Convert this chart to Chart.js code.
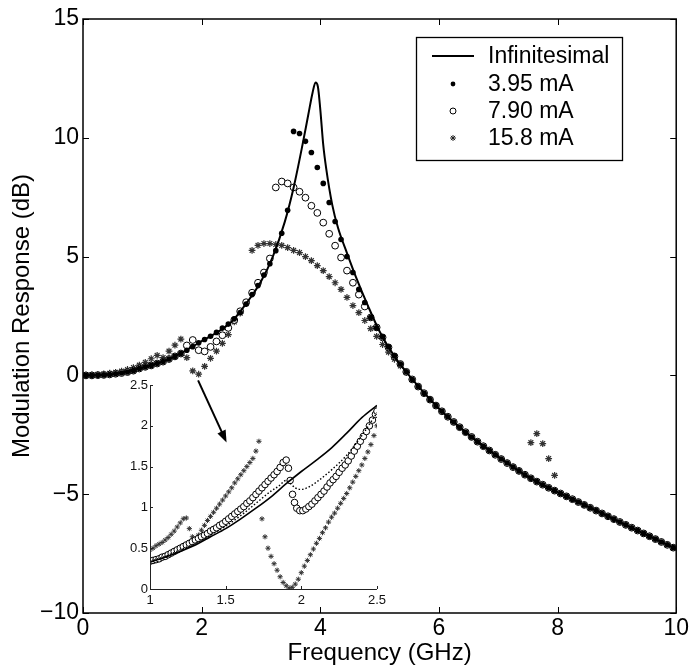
<!DOCTYPE html>
<html><head><meta charset="utf-8">
<script src="https://cdn.jsdelivr.net/npm/chart.js@4.4.1/dist/chart.umd.min.js"></script>
<style>
html,body{margin:0;padding:0;background:#fff;}
#wrap{position:relative;width:691px;height:668px;background:#fff;}
#main{position:absolute;left:0;top:0;}
#inset{position:absolute;left:100px;top:372px;}
</style></head><body>
<div id="wrap">
<canvas id="main" width="691" height="668"></canvas>
<canvas id="inset" width="290" height="240"></canvas>
</div>
<script>
// ---------- main chart data ----------
const mainXTicks = [0, 2, 4, 6, 8, 10];
const mainYTicks = [-10, -5, 0, 5, 10, 15];
const legendLabels = ['Infinitesimal', '3.95 mA', '7.90 mA', '15.8 mA'];

const freqCurve = [0, 0.5, 1.0, 1.5, 2.0, 2.5, 2.75, 3.0, 3.2, 3.4, 3.55, 3.7, 3.8, 3.87, 3.92, 3.96, 4.0, 4.05, 4.1, 4.2, 4.3, 4.45, 4.6, 4.8, 5.0, 5.25, 5.5, 6.0, 6.5, 7.0, 7.5, 8.0, 8.5, 9.0, 9.5, 10.0];
const dbInfinitesimal = [0, 0.05, 0.33, 0.74, 1.44, 2.25, 3.02, 3.95, 5.0, 6.45, 7.9, 9.7, 11.0, 11.9, 12.33, 12.15, 11.2, 9.7, 8.7, 7.2, 6.2, 5.15, 4.15, 2.95, 1.85, 0.80, -0.01, -1.39, -2.49, -3.43, -4.26, -4.91, -5.51, -6.11, -6.71, -7.31];

const freqMarkers = [0.05,0.15,0.25,0.35,0.45,0.55,0.65,0.75,0.85,0.95,
1.05,1.15,1.25,1.35,1.45,1.55,1.65,1.75,1.85,1.95,
2.05,2.15,2.25,2.35,2.45,2.55,2.65,2.75,2.85,2.95,
3.05,3.15,3.25,3.35,3.45,3.55,3.65,3.75,3.85,3.95,
4.05,4.15,4.25,4.35,4.45,4.55,4.65,4.75,4.85,4.95,
5.05,5.15,5.25,5.35,5.45,5.55,5.65,5.75,5.85,5.95,
6.05,6.15,6.25,6.35,6.45,6.55,6.65,6.75,6.85,6.95,
7.05,7.15,7.25,7.35,7.45,7.55,7.65,7.75,7.85,7.95,
8.05,8.15,8.25,8.35,8.45,8.55,8.65,8.75,8.85,8.95,
9.05,9.15,9.25,9.35,9.45,9.55,9.65,9.75,9.85,9.95];

const db395 = [0.00,0.00,0.01,0.02,0.04,0.07,0.10,0.14,0.20,0.29,
0.36,0.42,0.50,0.58,0.69,0.80,0.92,1.06,1.21,1.37,
1.51,1.65,1.81,1.99,2.16,2.38,2.65,3.00,3.40,3.78,
4.22,4.70,5.25,5.98,6.95,10.27,10.18,9.85,9.38,8.75,
8.08,7.28,6.48,5.72,5.00,4.33,3.62,3.07,2.44,2.00,
1.62,1.20,0.82,0.48,0.15,-0.17,-0.47,-0.75,-1.02,-1.27,
-1.51,-1.74,-1.96,-2.18,-2.39,-2.59,-2.79,-2.98,-3.16,-3.34,
-3.52,-3.69,-3.86,-4.02,-4.18,-4.33,-4.47,-4.60,-4.73,-4.85,
-4.97,-5.09,-5.21,-5.33,-5.45,-5.57,-5.69,-5.81,-5.93,-6.05,
-6.17,-6.29,-6.41,-6.53,-6.65,-6.77,-6.89,-7.01,-7.13,-7.25];

const db790 = [0.00,0.00,0.01,0.02,0.04,0.07,0.10,0.14,0.20,0.29,
0.36,0.42,0.50,0.58,0.69,0.80,0.92,1.26,1.49,1.06,
1.01,1.20,1.43,1.69,2.00,2.33,2.70,3.08,3.48,3.90,
4.33,4.92,7.91,8.16,8.08,7.91,7.73,7.48,7.14,6.84,
6.43,5.96,5.46,4.96,4.41,3.90,3.40,2.90,2.44,2.02,
1.60,1.18,0.80,0.48,0.15,-0.17,-0.47,-0.75,-1.02,-1.27,
-1.51,-1.74,-1.96,-2.18,-2.39,-2.59,-2.79,-2.98,-3.16,-3.34,
-3.52,-3.69,-3.86,-4.02,-4.18,-4.33,-4.47,-4.60,-4.73,-4.85,
-4.97,-5.09,-5.21,-5.33,-5.45,-5.57,-5.69,-5.81,-5.93,-6.05,
-6.17,-6.29,-6.41,-6.53,-6.65,-6.77,-6.89,-7.01,-7.13,-7.25];

const db158 = [0.01,0.02,0.04,0.06,0.09,0.13,0.18,0.25,0.33,0.43,
0.55,0.70,0.84,0.75,1.02,1.27,1.53,0.75,0.19,0.05,
0.38,0.72,1.02,1.35,1.72,2.25,2.62,3.02,5.26,5.47,
5.55,5.55,5.51,5.47,5.38,5.26,5.17,5.00,4.83,4.62,
4.41,4.16,3.90,3.62,3.28,2.94,2.64,2.31,1.97,1.64,
1.30,0.98,0.68,0.40,0.12,-0.17,-0.47,-0.75,-1.02,-1.27,
-1.51,-1.74,-1.96,-2.18,-2.39,-2.59,-2.79,-2.98,-3.16,-3.34,
-3.52,-3.69,-3.86,-4.02,-4.18,-2.83,-2.45,-2.87,-3.50,-4.21,
-4.97,-5.09,-5.21,-5.33,-5.45,-5.57,-5.69,-5.81,-5.93,-6.05,
-6.17,-6.29,-6.41,-6.53,-6.65,-6.77,-6.89,-7.01,-7.13,-7.25];

// arrow (data coordinates of main axes): start, end
const arrowFrom = [1.94, -0.21];
const arrowTo = [2.42, -2.82];

// ---------- inset data ----------
const insetXTicks = [1, 1.5, 2, 2.5];
const insetYTicks = [0, 0.5, 1, 1.5, 2, 2.5];

const insetFreqSolid = [1.0,1.1,1.2,1.3,1.4,1.5,1.6,1.7,1.8,1.9,2.0,2.1,2.2,2.3,2.4,2.5];
const insetDbSolid = [0.33,0.39,0.46,0.54,0.64,0.74,0.86,0.99,1.13,1.29,1.44,1.58,1.73,1.91,2.10,2.25];

const insetFreqDotted = [1.0,1.1,1.2,1.3,1.4,1.5,1.6,1.7,1.8,1.85,1.9,1.93,1.96,2.0,2.05,2.1,2.2,2.3,2.4,2.5];
const insetDbDotted = [0.34,0.40,0.48,0.56,0.66,0.77,0.90,1.05,1.20,1.26,1.33,1.29,1.24,1.22,1.25,1.31,1.46,1.64,1.88,2.16];

const insetFreqCircles = [1.00,1.02,1.04,1.06,1.08,1.10,1.12,1.14,1.16,1.18,1.20,1.22,1.24,1.26,1.28,1.30,1.32,1.34,1.36,1.38,
1.40,1.42,1.44,1.46,1.48,1.50,1.52,1.54,1.56,1.58,1.60,1.62,1.64,1.66,1.68,1.70,1.72,1.74,1.76,1.78,
1.80,1.82,1.84,1.86,1.88,1.90,1.915,1.926,1.942,1.955,1.97,1.99,
2.01,2.03,2.05,2.07,2.09,2.11,2.13,2.15,2.17,2.19,2.21,2.23,2.25,2.27,2.29,2.31,2.33,2.35,2.37,2.39,2.41,2.43,2.45,2.47,2.49,2.50];
const insetDbCircles = [0.34,0.35,0.36,0.37,0.39,0.40,0.42,0.44,0.46,0.48,0.50,0.52,0.54,0.56,0.58,0.60,0.62,0.64,0.66,0.68,
0.71,0.73,0.75,0.78,0.80,0.83,0.86,0.89,0.92,0.95,0.98,1.01,1.05,1.08,1.12,1.16,1.20,1.24,1.28,1.32,
1.36,1.40,1.44,1.49,1.55,1.58,1.48,1.33,1.16,1.06,0.99,0.96,
0.96,0.98,1.01,1.04,1.08,1.12,1.16,1.20,1.25,1.30,1.34,1.38,1.43,1.48,1.52,1.57,1.63,1.69,1.75,1.81,1.87,1.93,2.00,2.07,2.14,2.18];

const insetFreqStars = [1.00,1.02,1.04,1.06,1.08,1.10,1.12,1.14,1.16,1.18,1.20,1.22,1.24,1.26,1.28,1.30,1.32,1.34,1.36,1.38,
1.40,1.42,1.44,1.46,1.48,1.50,1.52,1.54,1.56,1.58,1.60,1.62,1.64,1.66,1.68,1.70,1.72,1.74,1.76,1.78,
1.80,1.82,1.84,1.86,1.88,1.90,1.92,1.94,1.96,1.98,2.00,2.02,2.04,2.06,2.08,2.10,2.12,2.14,2.16,2.18,
2.20,2.22,2.24,2.26,2.28,2.30,2.32,2.34,2.36,2.38,2.40,2.42,2.44,2.46,2.48,2.50];
const insetDbStars = [0.48,0.50,0.53,0.55,0.57,0.60,0.63,0.67,0.71,0.76,0.81,0.86,0.87,0.74,0.64,0.60,0.66,0.72,0.78,0.84,
0.89,0.94,0.99,1.04,1.09,1.14,1.19,1.24,1.30,1.35,1.40,1.45,1.50,1.55,1.60,1.69,1.81,0.86,0.64,0.50,
0.40,0.31,0.23,0.15,0.08,0.04,0.01,0.02,0.06,0.12,0.20,0.28,0.35,0.42,0.49,0.56,0.62,0.69,0.75,0.82,
0.88,0.93,0.99,1.05,1.11,1.17,1.24,1.31,1.38,1.45,1.52,1.60,1.68,1.77,1.88,2.00];

// ---------- helpers ----------
const FONT = "'Liberation Sans', Arial, Helvetica, sans-serif";
function pts(xs, ys) { return xs.map((x, i) => ({ x: x, y: ys[i] })); }
function fmt(v) { return v < 0 ? '\u2212' + Math.abs(v) : String(v); }

function drawStar(ctx, x, y, r) {
  ctx.beginPath();
  ctx.moveTo(x - r, y); ctx.lineTo(x + r, y);
  ctx.moveTo(x, y - r); ctx.lineTo(x, y + r);
  const d = r * 0.7071;
  ctx.moveTo(x - d, y - d); ctx.lineTo(x + d, y + d);
  ctx.moveTo(x - d, y + d); ctx.lineTo(x + d, y - d);
  ctx.stroke();
}

// frame + inward ticks for main axes
const mainFrame = {
  id: 'mainFrame',
  afterDatasetsDraw(chart) {
    const { ctx, chartArea: a, scales } = chart;
    ctx.save();
    ctx.strokeStyle = '#000';
    ctx.lineWidth = 1.5;
    ctx.strokeRect(a.left, a.top, a.right - a.left, a.bottom - a.top);
    const tl = 6;
    ctx.beginPath();
    mainXTicks.forEach(v => {
      const px = Math.round(scales.x.getPixelForValue(v)) + 0.5;
      ctx.moveTo(px, a.bottom); ctx.lineTo(px, a.bottom - tl);
      ctx.moveTo(px, a.top); ctx.lineTo(px, a.top + tl);
    });
    mainYTicks.forEach(v => {
      const py = Math.round(scales.y.getPixelForValue(v)) + 0.5;
      ctx.moveTo(a.left, py); ctx.lineTo(a.left + tl, py);
      ctx.moveTo(a.right, py); ctx.lineTo(a.right - tl, py);
    });
    ctx.lineWidth = 1;
    ctx.stroke();
    ctx.restore();
  },
  afterDraw(chart) {
    const { ctx, scales } = chart;
    ctx.save();
    // arrow
    const x1 = scales.x.getPixelForValue(arrowFrom[0]), y1 = scales.y.getPixelForValue(arrowFrom[1]);
    const x2 = scales.x.getPixelForValue(arrowTo[0]), y2 = scales.y.getPixelForValue(arrowTo[1]);
    const ang = Math.atan2(y2 - y1, x2 - x1);
    const hl = 12, hw = 4.5;
    ctx.strokeStyle = '#000'; ctx.fillStyle = '#000'; ctx.lineWidth = 2;
    ctx.beginPath();
    ctx.moveTo(x1, y1);
    ctx.lineTo(x2 - Math.cos(ang) * hl * 0.8, y2 - Math.sin(ang) * hl * 0.8);
    ctx.stroke();
    ctx.beginPath();
    ctx.moveTo(x2, y2);
    ctx.lineTo(x2 - Math.cos(ang) * hl - Math.sin(ang) * hw, y2 - Math.sin(ang) * hl + Math.cos(ang) * hw);
    ctx.lineTo(x2 - Math.cos(ang) * hl + Math.sin(ang) * hw, y2 - Math.sin(ang) * hl - Math.cos(ang) * hw);
    ctx.closePath();
    ctx.fill();

    // legend box
    const bx = 416.5, by = 37.5, bw = 206, bh = 123;
    ctx.fillStyle = '#fff';
    ctx.fillRect(bx, by, bw, bh);
    ctx.strokeStyle = '#000'; ctx.lineWidth = 1.3;
    ctx.strokeRect(bx, by, bw, bh);
    const rows = [56, 84, 111, 138];
    const mx = 453;
    ctx.lineWidth = 2;
    ctx.beginPath(); ctx.moveTo(432, rows[0]); ctx.lineTo(474, rows[0]); ctx.stroke();
    ctx.fillStyle = '#000';
    ctx.beginPath(); ctx.arc(mx, rows[1], 2.4, 0, Math.PI * 2); ctx.fill();
    ctx.lineWidth = 1;
    ctx.beginPath(); ctx.arc(mx, rows[2], 3, 0, Math.PI * 2); ctx.stroke();
    ctx.strokeStyle = '#222'; ctx.lineWidth = 1;
    drawStar(ctx, mx, rows[3], 3);
    ctx.fillStyle = '#000';
    ctx.font = '23px ' + FONT;
    ctx.textBaseline = 'middle';
    ctx.textAlign = 'left';
    legendLabels.forEach((t, i) => ctx.fillText(t, 488, rows[i] + 1));
    ctx.restore();
  }
};

new Chart(document.getElementById('main'), {
  type: 'scatter',
  data: {
    datasets: [
      { label: legendLabels[0], data: pts(freqCurve, dbInfinitesimal), showLine: true, borderColor: '#000', borderWidth: 2,
        pointRadius: 0, cubicInterpolationMode: 'monotone', order: 0 },
      { label: legendLabels[1], data: pts(freqMarkers, db395), showLine: false, pointStyle: 'circle', pointRadius: 2.8,
        backgroundColor: '#000', borderColor: '#000', borderWidth: 0, order: 1 },
      { label: legendLabels[2], data: pts(freqMarkers, db790), showLine: false, pointStyle: 'circle', pointRadius: 3.4,
        backgroundColor: '#fff', borderColor: '#000', borderWidth: 1, order: 2 },
      { label: legendLabels[3], data: pts(freqMarkers, db158), showLine: false, pointStyle: 'star', pointRadius: 3.4,
        backgroundColor: '#333', borderColor: '#333', borderWidth: 1.2, order: 3 }
    ]
  },
  options: {
    responsive: false, animation: false, devicePixelRatio: 1,
    layout: { padding: { left: 0, right: 14, top: 19, bottom: 0 } },
    plugins: { legend: { display: false }, tooltip: { enabled: false } },
    scales: {
      x: {
        type: 'linear', min: 0, max: 10,
        afterBuildTicks: s => { s.ticks = mainXTicks.map(v => ({ value: v })); },
        afterFit: s => { s.height = 55; },
        grid: { display: false, drawTicks: false }, border: { display: false },
        ticks: { font: { family: FONT, size: 23 }, color: '#000', padding: 2, maxRotation: 0, autoSkip: false, callback: fmt },
        title: { display: true, text: 'Frequency (GHz)', font: { family: FONT, size: 24 }, color: '#000', padding: { top: 0, bottom: 0 } }
      },
      y: {
        type: 'linear', min: -10, max: 15,
        afterBuildTicks: s => { s.ticks = mainYTicks.map(v => ({ value: v })); },
        afterFit: s => { s.width = 83; },
        grid: { display: false, drawTicks: false }, border: { display: false },
        ticks: { font: { family: FONT, size: 23 }, color: '#000', padding: 4, autoSkip: false, callback: fmt },
        title: { display: true, text: 'Modulation Response (dB)', font: { family: FONT, size: 24 }, color: '#000', padding: { top: 8, bottom: 0 } }
      }
    }
  },
  plugins: [mainFrame]
});

// ---------- inset ----------
const insetFrame = {
  id: 'insetFrame',
  afterDatasetsDraw(chart) {
    const { ctx, chartArea: a, scales } = chart;
    ctx.save();
    ctx.strokeStyle = '#222';
    ctx.lineWidth = 1;
    ctx.beginPath();
    ctx.moveTo(a.left + 0.5, a.top); ctx.lineTo(a.left + 0.5, a.bottom + 0.5); ctx.lineTo(a.right, a.bottom + 0.5);
    const tl = 3;
    insetXTicks.forEach(v => {
      const px = Math.round(scales.x.getPixelForValue(v)) + 0.5;
      ctx.moveTo(px, a.bottom); ctx.lineTo(px, a.bottom - tl);
    });
    insetYTicks.forEach(v => {
      const py = Math.round(scales.y.getPixelForValue(v)) + 0.5;
      ctx.moveTo(a.left, py); ctx.lineTo(a.left + tl, py);
    });
    ctx.stroke();
    ctx.restore();
  }
};

new Chart(document.getElementById('inset'), {
  type: 'scatter',
  data: {
    datasets: [
      { data: pts(insetFreqSolid, insetDbSolid), showLine: true, borderColor: '#000', borderWidth: 1.6, pointRadius: 0,
        cubicInterpolationMode: 'monotone', order: 0 },
      { data: pts(insetFreqDotted, insetDbDotted), showLine: true, borderColor: '#000', borderWidth: 1.4, borderDash: [1.5, 2],
        pointRadius: 0, cubicInterpolationMode: 'monotone', order: 1 },
      { data: pts(insetFreqCircles, insetDbCircles), showLine: false, pointStyle: 'circle', pointRadius: 3.3,
        backgroundColor: '#fff', borderColor: '#000', borderWidth: 1, order: 2 },
      { data: pts(insetFreqStars, insetDbStars), showLine: false, pointStyle: 'star', pointRadius: 2.6,
        borderColor: '#333', backgroundColor: '#333', borderWidth: 1, order: 3 }
    ]
  },
  options: {
    responsive: false, animation: false, devicePixelRatio: 1,
    layout: { padding: { left: 0, right: 13, top: 13, bottom: 0 } },
    plugins: { legend: { display: false }, tooltip: { enabled: false } },
    scales: {
      x: {
        type: 'linear', min: 1, max: 2.5,
        afterBuildTicks: s => { s.ticks = insetXTicks.map(v => ({ value: v })); },
        afterFit: s => { s.height = 23; },
        grid: { display: false, drawTicks: false }, border: { display: false },
        ticks: { font: { family: FONT, size: 13 }, color: '#111', padding: 4, maxRotation: 0, autoSkip: false, callback: v => String(v) }
      },
      y: {
        type: 'linear', min: 0, max: 2.5,
        afterBuildTicks: s => { s.ticks = insetYTicks.map(v => ({ value: v })); },
        afterFit: s => { s.width = 50; },
        grid: { display: false, drawTicks: false }, border: { display: false },
        ticks: { font: { family: FONT, size: 13 }, color: '#111', padding: 2, autoSkip: false, callback: v => String(v) }
      }
    }
  },
  plugins: [insetFrame]
});
</script>
</body></html>
